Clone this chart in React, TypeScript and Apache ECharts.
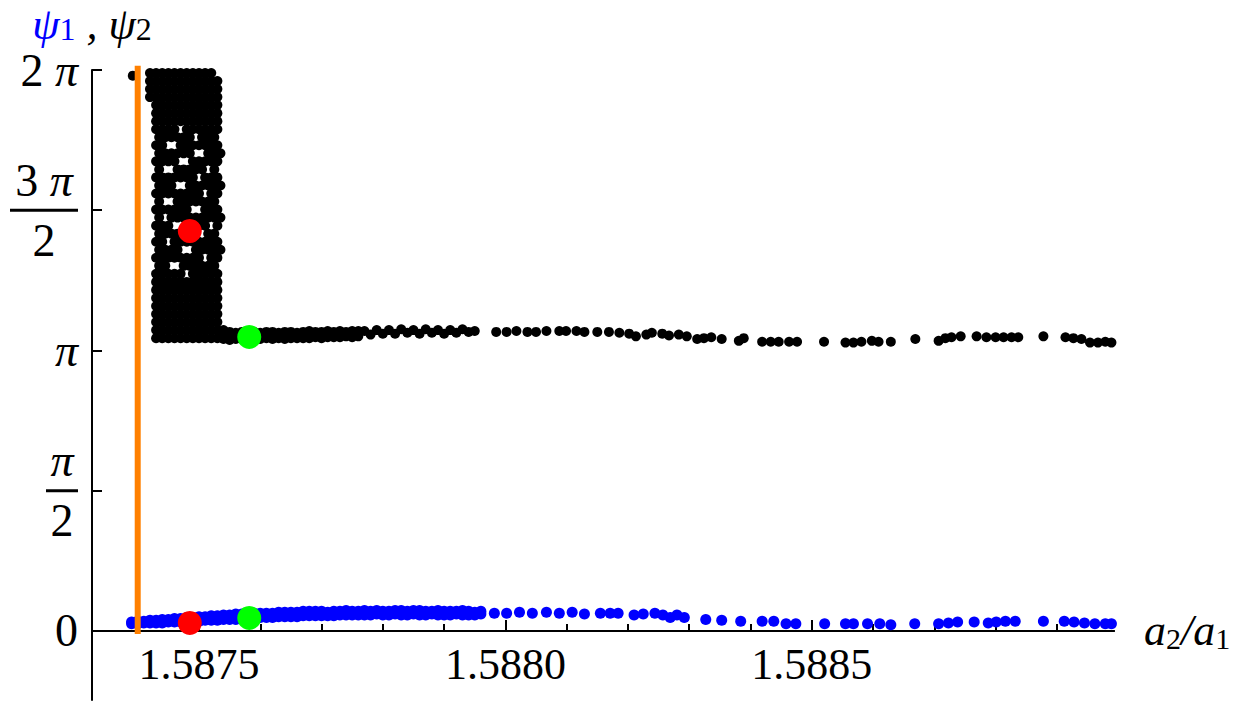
import { useEffect, useRef } from "react";
import * as echarts from "echarts";

const PI = Math.PI;
const FONT = "Liberation Serif";

// axis ranges
const xMin = 1.5873254;
const xMax = 1.5889932;
const yMin = -0.7728;
const yMax = 2 * PI;

// ticks
const xMajorTicks = [1.5875, 1.588, 1.5885];
const xMinorTicks = [
  1.5874, 1.5875, 1.5876, 1.5877, 1.5878, 1.5879, 1.588, 1.5881, 1.5882, 1.5883,
  1.5884, 1.5885, 1.5886, 1.5887, 1.5888, 1.5889,
];
const yTicks = [0, PI / 2, PI, (3 * PI) / 2, 2 * PI];
const yTickLabels = [
  "{s|0}",
  "{p|π}\n{barS|}\n{n|2}",
  "{sp|π}",
  "{n|3 }{p|π}\n{barL|}\n{n|2}",
  "{s|2 }{sp|π}",
];

// orange vertical marker
const orangeX = 1.5874;
const orangeYRange = [-0.034, 6.33];

// psi2 (black): dense cloud, rows of [psi, a2/a1 list]
const clusterRows: [number, number[]][] = [
  [6.25, [1.58742, 1.58743, 1.58744, 1.58745, 1.58746, 1.58747, 1.58748, 1.58749, 1.5875, 1.58751, 1.58752]],
  [6.16, [1.58742, 1.58743, 1.58744, 1.58745, 1.58746, 1.58747, 1.58748, 1.58749, 1.5875, 1.58751, 1.58752, 1.58753]],
  [6.07, [1.58742, 1.58743, 1.58744, 1.58745, 1.58746, 1.58747, 1.58748, 1.58749, 1.5875, 1.58751, 1.58752, 1.58753]],
  [5.98, [1.58742, 1.58743, 1.58744, 1.58745, 1.58746, 1.58747, 1.58748, 1.58749, 1.5875, 1.58751, 1.58752, 1.58753]],
  [5.89, [1.58743, 1.58744, 1.58745, 1.58746, 1.58747, 1.58748, 1.58749, 1.5875, 1.58751, 1.58752, 1.58753]],
  [5.8, [1.58743, 1.58744, 1.58745, 1.58746, 1.58747, 1.58748, 1.58749, 1.5875, 1.58751, 1.58752, 1.58753]],
  [5.71, [1.58743, 1.58744, 1.58745, 1.58746, 1.58747, 1.58748, 1.58749, 1.5875, 1.58751, 1.58752, 1.58753]],
  [5.62, [1.58743, 1.58744, 1.58745, 1.58746, 1.58748, 1.58749, 1.5875, 1.58751, 1.58752, 1.58753]],
  [5.53, [1.587435, 1.587445, 1.587455, 1.587465, 1.587475, 1.587485, 1.587505, 1.587515, 1.587525]],
  [5.44, [1.58743, 1.58744, 1.58747, 1.58748, 1.58749, 1.5875, 1.58751, 1.58752, 1.58753]],
  [5.35, [1.587435, 1.587445, 1.587455, 1.587465, 1.587475, 1.587485, 1.587515, 1.587525, 1.587535]],
  [5.26, [1.58743, 1.58744, 1.58745, 1.58746, 1.58749, 1.5875, 1.58751, 1.58752, 1.58753]],
  [5.17, [1.587435, 1.587465, 1.587475, 1.587485, 1.587495, 1.587505, 1.587525]],
  [5.08, [1.58743, 1.58744, 1.58745, 1.58746, 1.58747, 1.58748, 1.58749, 1.58751, 1.58752, 1.58753]],
  [4.99, [1.587435, 1.587445, 1.587455, 1.587485, 1.587495, 1.587505, 1.587515, 1.587525, 1.587535]],
  [4.9, [1.58743, 1.58744, 1.58745, 1.58746, 1.58747, 1.58748, 1.58749, 1.5875, 1.58752, 1.58753]],
  [4.81, [1.587435, 1.587465, 1.587475, 1.587485, 1.587495, 1.587505, 1.587515, 1.587525]],
  [4.72, [1.58743, 1.58744, 1.58745, 1.58746, 1.58747, 1.58748, 1.58751, 1.58752, 1.58753]],
  [4.63, [1.587435, 1.587455, 1.587465, 1.587475, 1.587485, 1.587495, 1.587505, 1.587515, 1.587525, 1.587535]],
  [4.54, [1.58743, 1.58744, 1.58745, 1.58748, 1.58749, 1.5875, 1.58751, 1.58753]],
  [4.45, [1.587435, 1.587445, 1.587455, 1.587465, 1.587475, 1.587485, 1.587515, 1.587525]],
  [4.36, [1.58743, 1.58744, 1.58746, 1.58747, 1.58748, 1.58749, 1.5875, 1.58751, 1.58752, 1.58753]],
  [4.27, [1.587435, 1.587445, 1.587455, 1.587465, 1.587495, 1.587505, 1.587515, 1.587525, 1.587535]],
  [4.18, [1.58743, 1.58744, 1.58745, 1.58746, 1.58747, 1.58748, 1.58749, 1.5875, 1.58752, 1.58753]],
  [4.09, [1.587435, 1.587445, 1.587475, 1.587485, 1.587495, 1.587505, 1.587515, 1.587525]],
  [4.0, [1.58743, 1.58744, 1.58745, 1.58746, 1.58747, 1.58749, 1.5875, 1.58751, 1.58752, 1.58753]],
  [3.91, [1.58743, 1.58744, 1.58745, 1.58746, 1.58747, 1.58748, 1.58749, 1.5875, 1.58751, 1.58752, 1.58753]],
  [3.82, [1.58743, 1.58744, 1.58745, 1.58746, 1.58747, 1.58748, 1.58749, 1.5875, 1.58751, 1.58752, 1.58753]],
  [3.73, [1.58743, 1.58744, 1.58745, 1.58746, 1.58747, 1.58748, 1.58749, 1.5875, 1.58751, 1.58752, 1.58753]],
  [3.64, [1.58743, 1.58744, 1.58745, 1.58746, 1.58747, 1.58748, 1.58749, 1.5875, 1.58751, 1.58752, 1.58753]],
  [3.55, [1.58743, 1.58744, 1.58745, 1.58746, 1.58747, 1.58748, 1.58749, 1.5875, 1.58751, 1.58752, 1.58753]],
  [3.46, [1.58743, 1.58744, 1.58745, 1.58746, 1.58747, 1.58748, 1.58749, 1.5875, 1.58751, 1.58752, 1.58753]],
  [3.37, [1.58743, 1.58744, 1.58745, 1.58746, 1.58747, 1.58748, 1.58749, 1.5875, 1.58751, 1.58752, 1.58753, 1.58754]],
  [3.28, [1.58743, 1.58744, 1.58745, 1.58746, 1.58747, 1.58748, 1.58749, 1.5875, 1.58751, 1.58752, 1.58753, 1.58754]],
];

const blackStray: number[][] = [[1.587392, 6.22]];

const blackBand: number[][] = [
  [1.58754, 3.34], [1.58755, 3.35], [1.58756, 3.34], [1.58757, 3.35], [1.58758, 3.34], [1.58759, 3.35],
  [1.5876, 3.34], [1.58761, 3.35], [1.58762, 3.35], [1.58763, 3.34], [1.58764, 3.35], [1.58765, 3.35],
  [1.58766, 3.34], [1.58767, 3.35], [1.58768, 3.36], [1.58769, 3.35], [1.5877, 3.35], [1.58771, 3.36],
  [1.58772, 3.35], [1.58773, 3.36], [1.58774, 3.35], [1.58775, 3.36], [1.58776, 3.36],
  [1.58754, 3.27], [1.58755, 3.26], [1.58756, 3.27], [1.58757, 3.27], [1.58758, 3.26], [1.58759, 3.27],
  [1.5876, 3.27], [1.58761, 3.28], [1.58762, 3.27], [1.58763, 3.28], [1.58764, 3.27], [1.58765, 3.28],
  [1.58766, 3.28], [1.58767, 3.28], [1.58768, 3.28], [1.58769, 3.29], [1.5877, 3.28], [1.58771, 3.29],
  [1.58772, 3.29], [1.58773, 3.29], [1.58774, 3.3], [1.58775, 3.29], [1.58776, 3.3],
  [1.58777, 3.36], [1.58778, 3.32], [1.58779, 3.37], [1.5878, 3.33], [1.58781, 3.37], [1.58782, 3.33],
  [1.58783, 3.38], [1.58784, 3.34], [1.58785, 3.37], [1.58786, 3.33], [1.58787, 3.38], [1.58788, 3.34],
  [1.58789, 3.37], [1.5879, 3.33], [1.58791, 3.37], [1.58792, 3.34], [1.58793, 3.38], [1.58794, 3.35],
  [1.58795, 3.36],
];

const blackSparse: number[][] = [
  [1.587985, 3.35], [1.588002, 3.35], [1.588018, 3.36], [1.588036, 3.35], [1.58805, 3.35], [1.588067, 3.36],
  [1.588088, 3.36], [1.588099, 3.36], [1.588116, 3.36], [1.588129, 3.35], [1.58815, 3.35], [1.588169, 3.35],
  [1.588186, 3.34], [1.588202, 3.33], [1.588213, 3.3], [1.58823, 3.32], [1.588239, 3.34], [1.588256, 3.33],
  [1.588267, 3.31], [1.588283, 3.32], [1.588296, 3.3], [1.588313, 3.27], [1.588324, 3.28], [1.588336, 3.29],
  [1.588353, 3.27], [1.588381, 3.25], [1.588389, 3.28], [1.588419, 3.24], [1.588433, 3.24], [1.588446, 3.24],
  [1.588463, 3.24], [1.588476, 3.24], [1.58852, 3.24], [1.588555, 3.23], [1.588568, 3.23], [1.588581, 3.24],
  [1.588598, 3.25], [1.588609, 3.24], [1.588629, 3.24], [1.588669, 3.27], [1.588707, 3.25], [1.588718, 3.28],
  [1.588728, 3.29], [1.588743, 3.3], [1.588769, 3.3], [1.588785, 3.29], [1.5888, 3.29], [1.588813, 3.29],
  [1.588826, 3.29], [1.588837, 3.29], [1.588878, 3.3], [1.588914, 3.29], [1.588927, 3.28], [1.58894, 3.27],
  [1.588954, 3.23], [1.588967, 3.23], [1.588979, 3.24], [1.588989, 3.23],
];

// psi1 (blue): dense band, upper and lower edges
const blueBandUpper: number[][] = [
  [1.58739, 0.1], [1.5874, 0.11], [1.58741, 0.11], [1.58742, 0.12], [1.58743, 0.12], [1.58744, 0.13],
  [1.58745, 0.13], [1.58746, 0.14], [1.58747, 0.14], [1.58748, 0.15], [1.58749, 0.15], [1.5875, 0.16],
  [1.58751, 0.16], [1.58752, 0.17], [1.58753, 0.17], [1.58754, 0.18], [1.58755, 0.18], [1.58756, 0.19],
  [1.58757, 0.19], [1.58758, 0.19], [1.58759, 0.2], [1.5876, 0.2], [1.58761, 0.2], [1.58762, 0.2],
  [1.58763, 0.21], [1.58764, 0.21], [1.58765, 0.21], [1.58766, 0.21], [1.58767, 0.22], [1.58768, 0.22],
  [1.58769, 0.22], [1.5877, 0.22], [1.58771, 0.21], [1.58772, 0.22], [1.58773, 0.22], [1.58774, 0.23],
  [1.58775, 0.22], [1.58776, 0.22], [1.58777, 0.23], [1.58778, 0.22], [1.58779, 0.23], [1.5878, 0.22],
  [1.58781, 0.22], [1.58782, 0.23], [1.58783, 0.23], [1.58784, 0.22], [1.58785, 0.23], [1.58786, 0.23],
  [1.58787, 0.22], [1.58788, 0.22], [1.58789, 0.23], [1.5879, 0.22], [1.58791, 0.22], [1.58792, 0.22],
  [1.58793, 0.23], [1.58794, 0.22], [1.58795, 0.21], [1.58796, 0.22],
];
const blueBandLower: number[][] = [
  [1.58739, 0.08], [1.5874, 0.08], [1.58741, 0.09], [1.58742, 0.09], [1.58743, 0.09], [1.58744, 0.09],
  [1.58745, 0.1], [1.58746, 0.1], [1.58747, 0.1], [1.58748, 0.11], [1.58749, 0.11], [1.5875, 0.11],
  [1.58751, 0.12], [1.58752, 0.12], [1.58753, 0.12], [1.58754, 0.13], [1.58755, 0.13], [1.58756, 0.13],
  [1.58757, 0.14], [1.58758, 0.14], [1.58759, 0.15], [1.5876, 0.15], [1.58761, 0.15], [1.58762, 0.15],
  [1.58763, 0.16], [1.58764, 0.16], [1.58765, 0.16], [1.58766, 0.16], [1.58767, 0.17], [1.58768, 0.17],
  [1.58769, 0.17], [1.5877, 0.17], [1.58771, 0.17], [1.58772, 0.17], [1.58773, 0.18], [1.58774, 0.18],
  [1.58775, 0.18], [1.58776, 0.18], [1.58777, 0.18], [1.58778, 0.18], [1.58779, 0.19], [1.5878, 0.18],
  [1.58781, 0.18], [1.58782, 0.19], [1.58783, 0.18], [1.58784, 0.18], [1.58785, 0.19], [1.58786, 0.18],
  [1.58787, 0.18], [1.58788, 0.19], [1.58789, 0.18], [1.5879, 0.18], [1.58791, 0.18], [1.58792, 0.19],
  [1.58793, 0.18], [1.58794, 0.18], [1.58795, 0.18], [1.58796, 0.19],
];

const blueSparse: number[][] = [
  [1.587982, 0.2], [1.588002, 0.2], [1.588023, 0.21], [1.588044, 0.2], [1.588067, 0.21], [1.588088, 0.2],
  [1.588109, 0.21], [1.588129, 0.19], [1.588155, 0.2], [1.588171, 0.2], [1.588184, 0.2], [1.58821, 0.18],
  [1.588225, 0.19], [1.588244, 0.2], [1.588257, 0.18], [1.588269, 0.15], [1.58828, 0.18], [1.588292, 0.15],
  [1.588327, 0.13], [1.588353, 0.12], [1.588384, 0.11], [1.588419, 0.11], [1.588438, 0.11], [1.588458, 0.08],
  [1.588474, 0.08], [1.588521, 0.08], [1.588555, 0.08], [1.588568, 0.08], [1.588591, 0.08], [1.588611, 0.08],
  [1.588629, 0.07], [1.588668, 0.08], [1.588707, 0.08], [1.588723, 0.09], [1.588738, 0.1], [1.588765, 0.1],
  [1.588788, 0.09], [1.588801, 0.1], [1.588816, 0.11], [1.588832, 0.11], [1.588878, 0.11], [1.588912, 0.11],
  [1.588928, 0.1], [1.588945, 0.09], [1.588962, 0.08], [1.588979, 0.08], [1.588989, 0.08],
];

// highlighted points
const redPoints: number[][] = [[1.587485, 4.48], [1.587485, 0.09]];
const greenPoints: number[][] = [[1.587582, 3.293], [1.587582, 0.146]];

export default function App() {
  const ref = useRef<HTMLDivElement>(null);
  useEffect(() => {
    if (!ref.current) return;
    const chart = echarts.init(ref.current, undefined, { renderer: "svg" });
    const clusterPts = clusterRows.flatMap(([y, xs]) => xs.map((x) => [x, y]));
    const blackData = [...clusterPts, ...blackStray, ...blackBand, ...blackSparse];
    const blueData = [...blueBandUpper, ...blueBandLower, ...blueSparse];
    const lblBase = {
      fontFamily: FONT,
      color: "#000",
      fontSize: 46,
      fontWeight: "normal" as const,
      lineHeight: 48,
      align: "center" as const,
    };
    chart.setOption({
      animation: false,
      backgroundColor: "#fff",
      grid: { left: 92, top: 70, right: 136, bottom: 5, containLabel: false, outerBoundsMode: "none" },
      xAxis: [
        {
          type: "value",
          min: xMin,
          max: xMax,
          position: "bottom",
          axisLine: { show: true, onZero: true, onZeroAxisIndex: 0, lineStyle: { color: "#000", width: 2 } },
          axisTick: { show: true, inside: true, length: 11, customValues: xMajorTicks, lineStyle: { color: "#000", width: 2 } },
          axisLabel: {
            show: true,
            customValues: xMajorTicks,
            margin: -58,
            fontFamily: FONT,
            fontSize: 44,
            color: "#000",
            formatter: (v: number) => v.toFixed(4),
          },
          splitLine: { show: false },
          name: "{i|a}{s|2}{n|/}{i|a}{s|1}",
          nameLocation: "end",
          nameGap: 30,
          nameTextStyle: {
            rich: {
              i: { fontFamily: FONT, fontStyle: "italic", fontWeight: "normal", fontSize: 44, color: "#000", lineHeight: 46 },
              n: { fontFamily: FONT, fontStyle: "italic", fontWeight: "normal", fontSize: 44, color: "#000", lineHeight: 46 },
              s: { fontFamily: FONT, fontWeight: "normal", fontSize: 30, color: "#000", lineHeight: 20, verticalAlign: "bottom" },
            },
          },
        },
        {
          type: "value",
          min: xMin,
          max: xMax,
          position: "top",
          axisLine: { show: true, onZero: true, onZeroAxisIndex: 0, lineStyle: { color: "#000", width: 2 } },
          axisTick: { show: true, inside: false, length: 7, customValues: xMinorTicks, lineStyle: { color: "#000", width: 2 } },
          axisLabel: { show: false },
          splitLine: { show: false },
        },
      ],
      yAxis: {
        type: "value",
        min: yMin,
        max: yMax,
        axisLine: { show: true, onZero: false, lineStyle: { color: "#000", width: 2 } },
        axisTick: { show: true, inside: true, length: 10, customValues: yTicks, lineStyle: { color: "#000", width: 2 } },
        axisLabel: {
          show: true,
          customValues: yTicks,
          margin: 14,
          formatter: (v: number) => {
            const i = yTicks.findIndex((t) => Math.abs(t - v) < 1e-6);
            return i >= 0 ? yTickLabels[i] : "";
          },
          rich: {
            n: { ...lblBase },
            p: { ...lblBase, fontStyle: "italic" },
            s: { ...lblBase, lineHeight: 36 },
            sp: { ...lblBase, lineHeight: 36, fontStyle: "italic" },
            barS: { width: 32, height: 3, lineHeight: 12, backgroundColor: "#000" },
            barL: { width: 68, height: 3, lineHeight: 12, backgroundColor: "#000" },
          },
        },
        splitLine: { show: false },
        name: "{b|ψ}{bs|1}{k| , ψ}{ks|2}",
        nameLocation: "end",
        nameGap: 25,
        nameTextStyle: {
          align: "center",
          rich: {
            b: { color: "#0000ff", fontFamily: FONT, fontStyle: "italic", fontWeight: "normal", fontSize: 44, lineHeight: 42 },
            bs: { color: "#0000ff", fontFamily: FONT, fontWeight: "normal", fontSize: 32, lineHeight: 20, verticalAlign: "bottom" },
            k: { color: "#000", fontFamily: FONT, fontStyle: "italic", fontWeight: "normal", fontSize: 44, lineHeight: 42 },
            ks: { color: "#000", fontFamily: FONT, fontWeight: "normal", fontSize: 32, lineHeight: 20, verticalAlign: "bottom" },
          },
        },
      },
      series: [
        {
          type: "scatter",
          name: "psi2",
          xAxisIndex: 0,
          data: blackData,
          symbolSize: 10,
          itemStyle: { color: "#000", opacity: 1 },
        },
        {
          type: "scatter",
          name: "psi1",
          xAxisIndex: 0,
          data: blueData,
          symbolSize: 11,
          itemStyle: { color: "#0000ff", opacity: 1 },
        },
        {
          type: "line",
          xAxisIndex: 0,
          data: [[orangeX, orangeYRange[0]], [orangeX, orangeYRange[1]]],
          symbol: "none",
          clip: false,
          lineStyle: { color: "#ff8000", width: 6 },
        },
        {
          type: "scatter",
          xAxisIndex: 0,
          data: redPoints,
          symbolSize: 24,
          itemStyle: { color: "#ff0000", opacity: 1 },
        },
        {
          type: "scatter",
          xAxisIndex: 0,
          data: greenPoints,
          symbolSize: 24,
          itemStyle: { color: "#00ff00", opacity: 1 },
        },
      ],
    });
    return () => chart.dispose();
  }, []);
  return <div ref={ref} style={{ position: "fixed", left: 0, top: 0, width: 1250, height: 705 }} />;
}
